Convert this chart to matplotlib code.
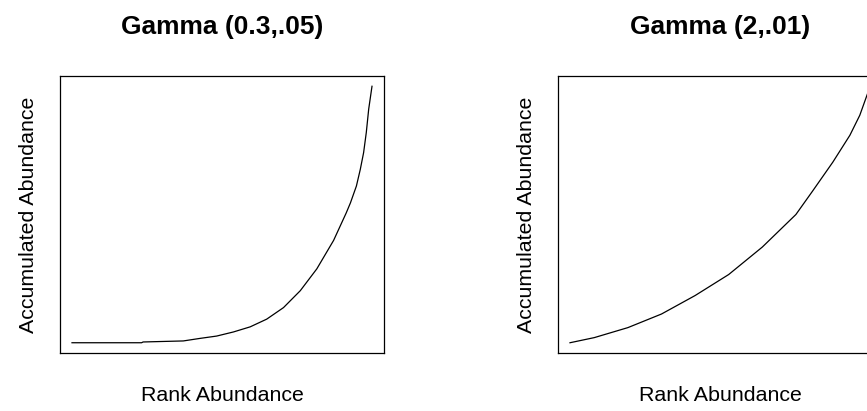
import numpy as np
import matplotlib
matplotlib.use("Agg")
import matplotlib.pyplot as plt

plt.rcParams['font.family'] = ['Liberation Sans', 'DejaVu Sans']

# rank (as fraction of species) vs accumulated abundance (scaled to max)
rank_a = [0.0, 0.232, 0.237, 0.371, 0.427, 0.482, 0.538, 0.594, 0.649,
          0.705, 0.761, 0.816, 0.872, 0.914, 0.928, 0.948, 0.961, 0.972,
          0.981, 0.989, 1.0]
acc_a = [0.0, 0.0, 0.003, 0.007, 0.017, 0.026, 0.042, 0.062, 0.092,
         0.137, 0.203, 0.288, 0.399, 0.506, 0.545, 0.611, 0.676, 0.741,
         0.820, 0.911, 1.0]

rank_b = [0.0, 0.081, 0.193, 0.305, 0.417, 0.529, 0.641, 0.753, 0.809,
          0.876, 0.933, 0.966, 1.0]
acc_b = [0.0, 0.020, 0.059, 0.112, 0.184, 0.266, 0.373, 0.500, 0.592,
         0.704, 0.809, 0.887, 0.998]

titles = ["Gamma (0.3,.05)", "Gamma (2,.01)"]

W, H = 867, 411
fig = plt.figure(figsize=(W / 100, H / 100), dpi=100)

boxes = [(60, 76, 324, 277), (558, 76, 324, 277)]
series = [(rank_a, acc_a), (rank_b, acc_b)]

for (x0, y0, w, h), (rx, ry), t in zip(boxes, series, titles):
    ax = fig.add_axes([x0 / W, 1 - (y0 + h) / H, w / W, h / H])
    ax.plot(rx, ry, color='black', lw=0.9)
    ax.set_xlim(-0.04, 1.04)
    ax.set_ylim(-0.04, 1.04)
    ax.set_xticks([])
    ax.set_yticks([])
    for s in ax.spines.values():
        s.set_linewidth(0.9)
    ax.set_title(t, fontsize=19, fontweight='bold', pad=30)
    ax.set_xlabel("Rank Abundance", fontsize=15.4, labelpad=24)
    ax.set_ylabel("Accumulated Abundance", fontsize=15.4, labelpad=16)

fig.savefig("out.png", dpi=100)
